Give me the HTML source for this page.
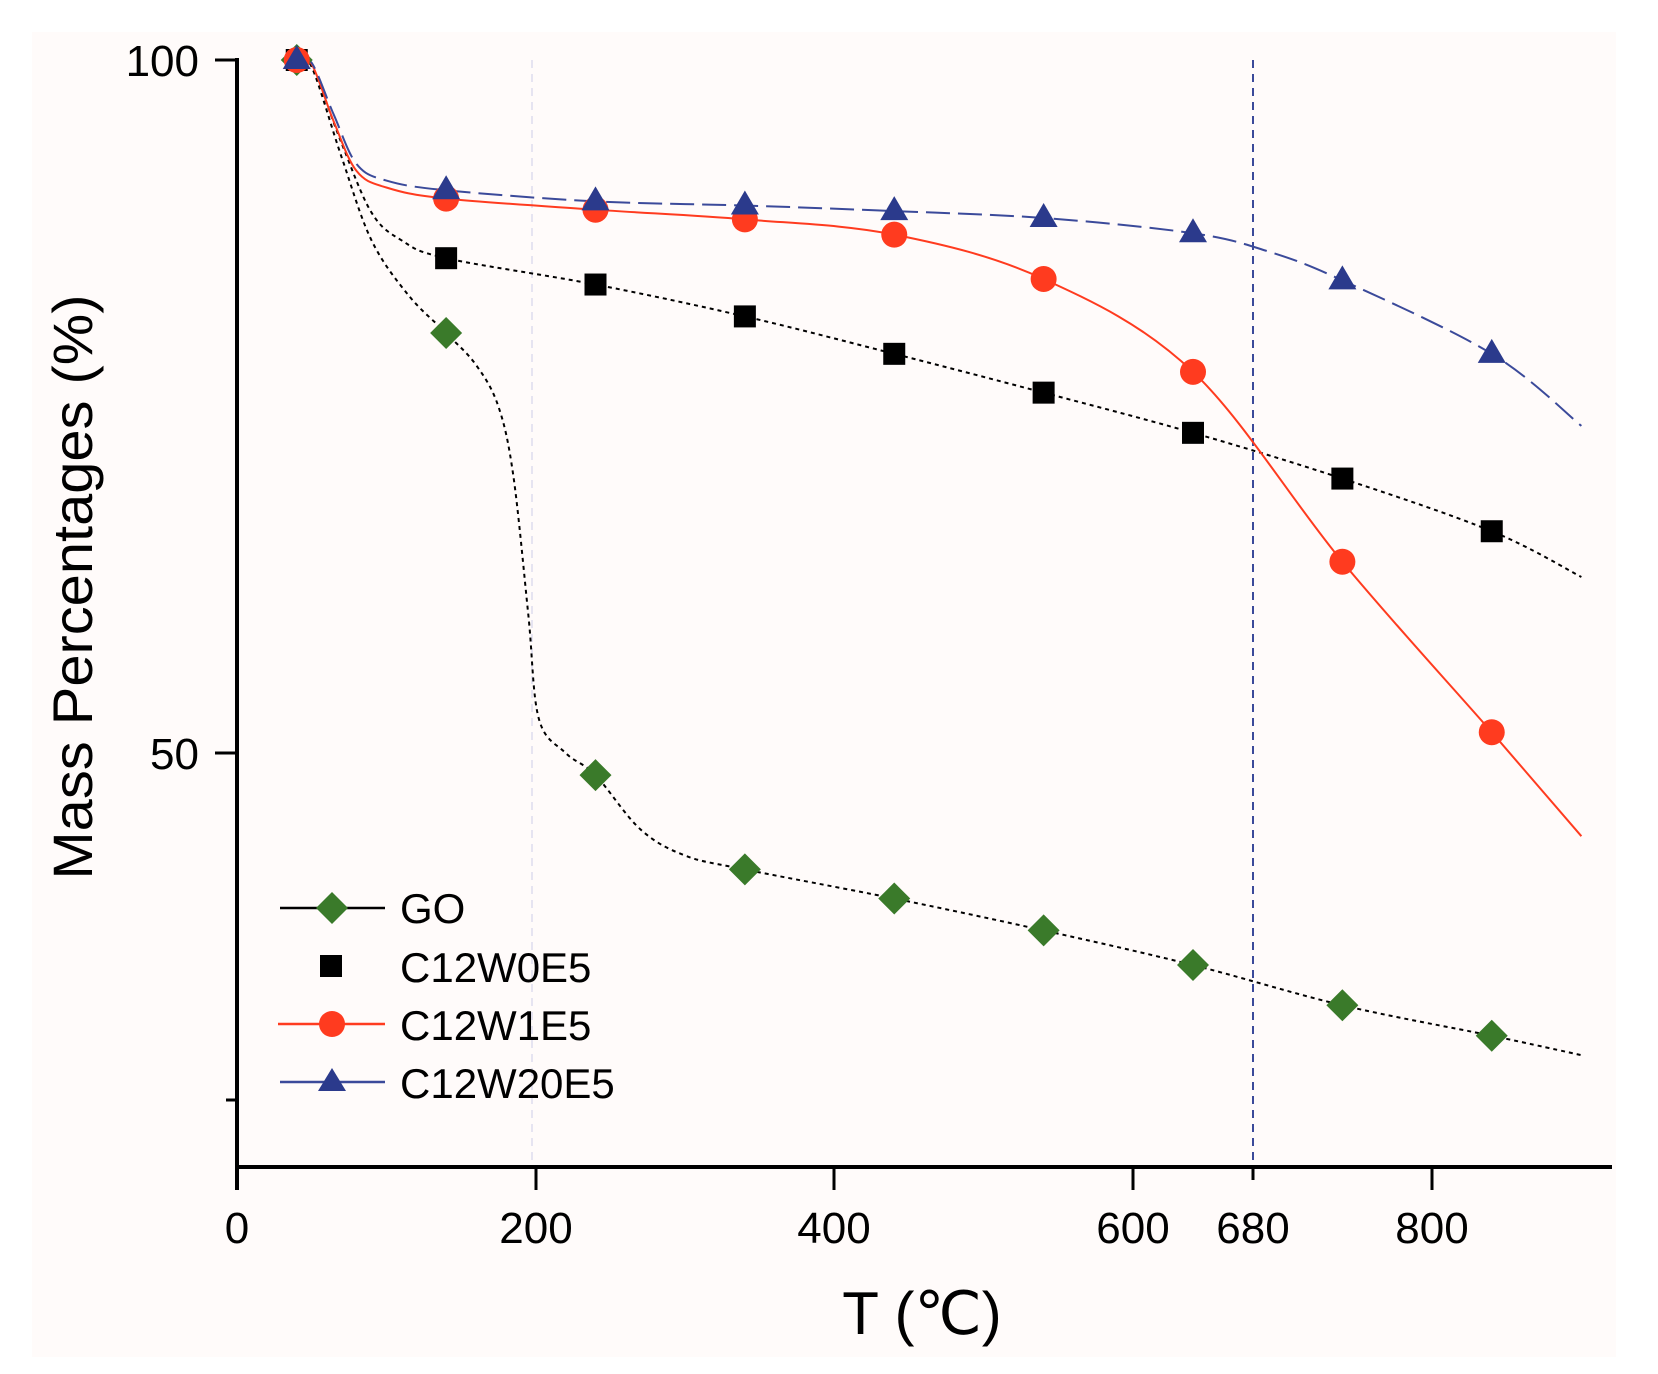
<!DOCTYPE html>
<html><head><meta charset="utf-8"><style>
html,body{margin:0;padding:0;background:#fff}
svg{display:block}
text{font-family:"Liberation Sans","DejaVu Sans",sans-serif;fill:#000}
</style></head><body>
<svg id="s" width="1658" height="1374" viewBox="0 0 1658 1374" xmlns="http://www.w3.org/2000/svg">
<rect x="0" y="0" width="1658" height="1374" fill="#fff"/>
<rect x="32" y="32" width="1584" height="1325" fill="#fffbfa"/>
<line x1="532" y1="60" x2="532" y2="1167" stroke="#dde" stroke-width="1.5" stroke-dasharray="8,6"/>
<line x1="1253" y1="60" x2="1253" y2="1175" stroke="#3b4a9a" stroke-width="2" stroke-dasharray="8,6"/>
<g id="curves"></g>
<g id="marks"></g>
<line x1="237" y1="58" x2="237" y2="1190" stroke="#000" stroke-width="4"/>
<line x1="235" y1="1167" x2="1612" y2="1167" stroke="#000" stroke-width="4"/>
<line x1="215" y1="60" x2="237" y2="60" stroke="#000" stroke-width="3"/>
<line x1="215" y1="753" x2="237" y2="753" stroke="#000" stroke-width="3"/>
<line x1="226" y1="1100" x2="237" y2="1100" stroke="#000" stroke-width="3"/>
<line x1="536" y1="1167" x2="536" y2="1190" stroke="#000" stroke-width="3"/>
<line x1="834" y1="1167" x2="834" y2="1190" stroke="#000" stroke-width="3"/>
<line x1="1133" y1="1167" x2="1133" y2="1190" stroke="#000" stroke-width="3"/>
<line x1="1253" y1="1167" x2="1253" y2="1180" stroke="#000" stroke-width="3"/>
<line x1="1432" y1="1167" x2="1432" y2="1190" stroke="#000" stroke-width="3"/>
<g font-size="44">
<text x="199" y="76" text-anchor="end">100</text>
<text x="199" y="769" text-anchor="end">50</text>
<text x="237" y="1243" text-anchor="middle">0</text>
<text x="536" y="1243" text-anchor="middle">200</text>
<text x="834" y="1243" text-anchor="middle">400</text>
<text x="1133" y="1243" text-anchor="middle">600</text>
<text x="1253" y="1243" text-anchor="middle">680</text>
<text x="1432" y="1243" text-anchor="middle">800</text>
</g>
<text x="922" y="1334" font-size="60" text-anchor="middle">T (℃)</text>
<text transform="translate(92,587) rotate(-90)" font-size="56" text-anchor="middle" textLength="585" lengthAdjust="spacingAndGlyphs">Mass Percentages (%)</text>
<g font-size="42">
<line x1="280" y1="908" x2="385" y2="908" stroke="#000" stroke-width="2.5"/>
<polygon points="332,892 348,908 332,924 316,908" fill="#3a7a2a"/>
<text x="400" y="923">GO</text>
<rect x="320" y="955" width="22" height="22" fill="#000"/>
<text x="400" y="982">C12W0E5</text>
<line x1="278" y1="1024" x2="385" y2="1024" stroke="#ff3b1f" stroke-width="2.5"/>
<circle cx="332" cy="1024" r="13" fill="#ff3b1f"/>
<text x="400" y="1040">C12W1E5</text>
<line x1="280" y1="1082" x2="385" y2="1082" stroke="#3b4a9a" stroke-width="2.5"/>
<polygon points="332,1068 346,1091 318,1091" fill="#2b3a8c"/>
<text x="400" y="1098">C12W20E5</text>
</g>
</svg>
<script>
function X(t){return 237+t*1.49375}
function Y(v){return 60+(100-v)*13.86}
var S=[
{c:"#000",d:"4,4",w:2,m:"d",mc:"#3a7a2a",p:[[40,100],[50,99.5],[70,93],[90,87],[115,83],[140,80.3],[160,78],[175,75],[185,70],[195,60],[202,52.5],[220,50],[240,48.4],[270,44.5],[300,42.6],[340,41.6],[440,39.5],[540,37.2],[640,34.7],[740,31.8],[840,29.6],[900,28.2]]},
{c:"#000",d:"4,4",w:2,m:"s",mc:"#000",p:[[40,100],[50,99.6],[70,94],[90,89],[110,87],[140,85.7],[240,83.8],[340,81.5],[440,78.8],[540,76],[640,73.1],[740,69.8],[840,66],[900,62.7]]},
{c:"#ff3b1f",d:"",w:2,m:"c",mc:"#ff3b1f",p:[[40,100],[50,99.7],[65,95.5],[80,92],[100,90.8],[140,90.0],[240,89.2],[340,88.5],[440,87.4],[540,84.2],[640,77.5],[740,63.8],[840,51.5],[900,44]]},
{c:"#3b4a9a",d:"24,8",w:2,m:"t",mc:"#2b3a8c",p:[[40,100],[50,99.8],[65,96],[80,92.5],[100,91.3],[140,90.6],[240,89.8],[340,89.5],[440,89.1],[540,88.6],[640,87.5],[690,86.2],[740,84.1],[840,78.8],[900,73.6]]}
];
var ns="http://www.w3.org/2000/svg",cg=document.getElementById("curves"),mg=document.getElementById("marks");
S.forEach(function(s){
 var P=s.p.map(function(q){return [X(q[0]),Y(q[1])]});
 var d="M"+P[0][0]+","+P[0][1];
 for(var i=0;i<P.length-1;i++){
  var p0=P[i-1]||P[i],p1=P[i],p2=P[i+1],p3=P[i+2]||P[i+1];
  var c1=[p1[0]+(p2[0]-p0[0])/6,p1[1]+(p2[1]-p0[1])/6],c2=[p2[0]-(p3[0]-p1[0])/6,p2[1]-(p3[1]-p1[1])/6];
  d+=" C"+c1+" "+c2+" "+p2;
 }
 var e=document.createElementNS(ns,"path");e.setAttribute("d",d);e.setAttribute("fill","none");
 e.setAttribute("stroke",s.c);e.setAttribute("stroke-width",s.w);if(s.d)e.setAttribute("stroke-dasharray",s.d);cg.appendChild(e);
});
var Ts=[40,140,240,340,440,540,640,740,840];
S.forEach(function(s){
 Ts.forEach(function(t){
  var v;for(var i=0;i<s.p.length;i++)if(s.p[i][0]==t)v=s.p[i][1];
  var x=X(t),y=Y(v),e;
  if(s.m=="d"){e=document.createElementNS(ns,"polygon");e.setAttribute("points",[x,y-16,x+16,y,x,y+16,x-16,y].join(" "));}
  else if(s.m=="s"){e=document.createElementNS(ns,"rect");e.setAttribute("x",x-11);e.setAttribute("y",y-11);e.setAttribute("width",22);e.setAttribute("height",22);}
  else if(s.m=="c"){e=document.createElementNS(ns,"circle");e.setAttribute("cx",x);e.setAttribute("cy",y);e.setAttribute("r",13);}
  else {e=document.createElementNS(ns,"polygon");e.setAttribute("points",[x,y-15,x+14,y+9,x-14,y+9].join(" "));}
  e.setAttribute("fill",s.mc);mg.appendChild(e);
 });
});
</script>
</body></html>
